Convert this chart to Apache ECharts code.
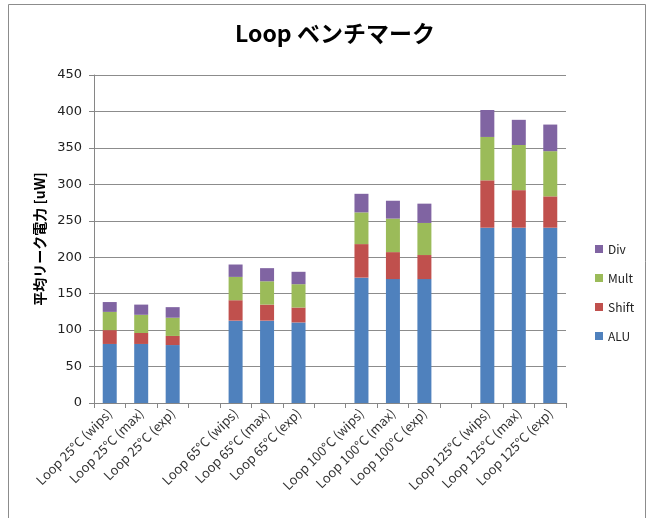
<!DOCTYPE html>
<html>
<head>
<meta charset="utf-8">
<script src="https://cdn.jsdelivr.net/npm/echarts@6/dist/echarts.min.js"></script>
<style>
html, body { margin: 0; padding: 0; background: #fff; }
#chart { width: 653px; height: 518px; }
</style>
</head>
<body>
<div id="chart"></div>
<script>
// カテゴリ（空欄はグループ間の隙間）
var categories = [
  'Loop 25°C (wips)', 'Loop 25°C (max)', 'Loop 25°C (exp)', '',
  'Loop 65°C (wips)', 'Loop 65°C (max)', 'Loop 65°C (exp)', '',
  'Loop 100°C (wips)', 'Loop 100°C (max)', 'Loop 100°C (exp)', '',
  'Loop 125°C (wips)', 'Loop 125°C (max)', 'Loop 125°C (exp)'
];
var aluData   = [81, 81, 79.5, null, 113, 113, 110.5, null, 172, 170, 170, null, 240.5, 240.5, 240.5];
var shiftData = [19, 15, 12.5, null, 28, 22, 20.5, null, 46, 37, 33, null, 65, 51.5, 43];
var multData  = [25, 25, 25, null, 32, 32, 32, null, 43.5, 46, 44, null, 59.5, 62, 62];
var divData   = [13.5, 14, 14.5, null, 17, 18, 17, null, 25.5, 24.5, 26.5, null, 37, 34.5, 36.5];
var legendOrder = ['Div', 'Mult', 'Shift', 'ALU'];

var font = '"Noto Sans CJK JP", "Liberation Sans", sans-serif';
var myChart = echarts.init(document.getElementById('chart'));

function bar(name, data, color) {
  return {
    name: name,
    type: 'bar',
    stack: 'total',
    barWidth: 14,
    itemStyle: { color: color },
    data: data
  };
}

var option = {
  backgroundColor: '#fff',
  animation: false,
  textStyle: { fontFamily: font },
  title: {
    text: 'Loop ベンチマーク',
    left: 330,
    textAlign: 'center',
    top: 17,
    textStyle: { fontSize: 23, fontWeight: 'bold', color: '#000', fontFamily: font }
  },
  graphic: [{
    type: 'rect',
    shape: { x: 8.5, y: 4.5, width: 637, height: 520 },
    style: { fill: 'none', stroke: '#8c8c8c', lineWidth: 1 },
    silent: true
  }],
  legend: {
    data: legendOrder,
    orient: 'vertical',
    left: 590,
    top: 238,
    itemWidth: 8,
    itemHeight: 8,
    itemGap: 17,
    icon: 'rect',
    textStyle: { fontSize: 12, color: '#222', fontFamily: font }
  },
  grid: { left: 94, right: 87, top: 75, bottom: 115, containLabel: false },
  xAxis: {
    type: 'category',
    data: categories,
    axisLine: { lineStyle: { color: '#868686' } },
    axisTick: { show: true, length: 5, lineStyle: { color: '#868686' } },
    axisLabel: { interval: 0, rotate: 45, fontSize: 13, color: '#333', margin: 8, fontFamily: font }
  },
  yAxis: {
    type: 'value',
    min: 0,
    max: 450,
    interval: 50,
    name: '平均リーク電力 [uW]',
    nameLocation: 'middle',
    nameGap: 45,
    nameTextStyle: { fontSize: 14, fontWeight: 'bold', color: '#000', fontFamily: font },
    axisLine: { show: true, lineStyle: { color: '#868686' } },
    axisTick: { show: true, length: 5, lineStyle: { color: '#868686' } },
    axisLabel: { fontSize: 13, color: '#222', margin: 12, fontFamily: '"DejaVu Sans", sans-serif' },
    splitLine: { lineStyle: { color: '#8c8c8c', width: 1 } }
  },
  series: [
    bar('ALU', aluData, '#4F81BD'),
    bar('Shift', shiftData, '#C0504D'),
    bar('Mult', multData, '#9BBB59'),
    bar('Div', divData, '#8064A2')
  ]
};

myChart.setOption(option);
</script>
</body>
</html>
